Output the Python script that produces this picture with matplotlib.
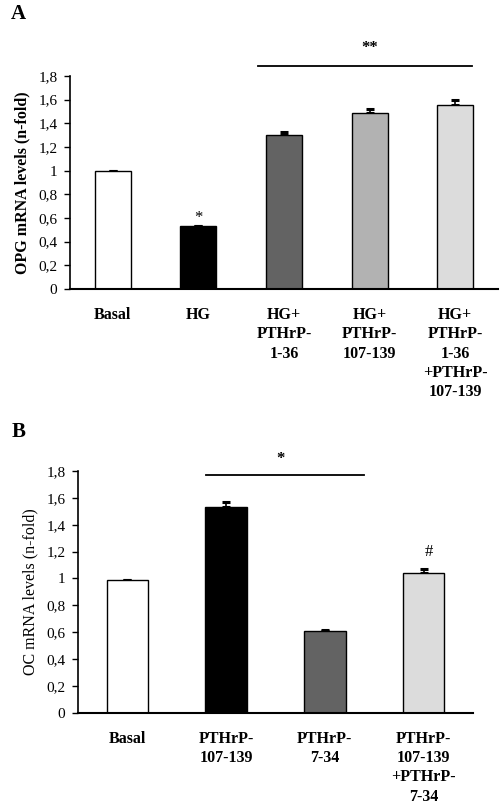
import matplotlib
matplotlib.use("Agg")
import matplotlib.pyplot as plt
import numpy as np

plt.rcParams['font.family'] = ['Liberation Serif', 'DejaVu Serif']

# Panel A data
cats_a = ["Basal", "HG", "HG+\nPTHrP-\n1-36", "HG+\nPTHrP-\n107-139", "HG+\nPTHrP-\n1-36\n+PTHrP-\n107-139"]
vals_a = [1.0, 0.53, 1.30, 1.49, 1.555]
errs_a = [0.0, 0.0, 0.025, 0.03, 0.04]
cols_a = ["#ffffff", "#000000", "#636363", "#b2b2b2", "#dcdcdc"]

# Panel B data
cats_b = ["Basal", "PTHrP-\n107-139", "PTHrP-\n7-34", "PTHrP-\n107-139\n+PTHrP-\n7-34"]
vals_b = [0.99, 1.53, 0.61, 1.04]
errs_b = [0.0, 0.04, 0.008, 0.03]
cols_b = ["#ffffff", "#000000", "#636363", "#dcdcdc"]

yticks = [0, 0.2, 0.4, 0.6, 0.8, 1.0, 1.2, 1.4, 1.6, 1.8]
ytick_labels = ["0", "0,2", "0,4", "0,6", "0,8", "1", "1,2", "1,4", "1,6", "1,8"]

W, H = 502, 807
fig = plt.figure(figsize=(W / 100, H / 100), dpi=100)


def style(ax, n, ylabel, ylabel_weight, ylsize):
    ax.set_xlim(-0.5, n - 0.5)
    ax.set_ylim(0, 1.8)
    ax.set_yticks(yticks)
    ax.set_yticklabels(ytick_labels, fontsize=11)
    ax.spines['top'].set_visible(False)
    ax.spines['right'].set_visible(False)
    ax.spines['left'].set_linewidth(1.2)
    ax.spines['bottom'].set_linewidth(1.5)
    ax.tick_params(axis='y', direction='out', length=4, width=1, pad=5)
    ax.tick_params(axis='x', length=0, pad=13)
    for lab in ax.get_xticklabels():
        lab.set_linespacing(1.28)
    ax.set_ylabel(ylabel, fontsize=ylsize, fontweight=ylabel_weight, labelpad=6)


# Panel A
axA = fig.add_axes([70 / W, 1 - 289 / H, 428 / W, 213 / H])
xa = np.arange(len(cats_a))
axA.bar(xa, vals_a, width=0.42, color=cols_a, edgecolor='black', linewidth=1.0, zorder=2)
axA.errorbar(xa, vals_a, yerr=[np.zeros(len(errs_a)), errs_a], fmt='none',
             ecolor='black', elinewidth=1.2, capsize=3, capthick=2.2, zorder=1)
axA.set_xticks(xa)
axA.set_xticklabels(cats_a, fontsize=11.5, fontweight='bold', va='top', ha='center')
style(axA, len(cats_a), "OPG mRNA levels (n-fold)", 'bold', 11.5)
axA.plot([1.7, 4.2], [1.885, 1.885], color='black', lw=1.3, clip_on=False)
axA.text(3.0, 2.04, "**", ha='center', va='center', fontsize=12, fontweight='bold')
axA.text(1, 0.60, "*", ha='center', va='center', fontsize=12)
fig.text(11 / W, 1 - 14 / H, "A", fontsize=15, fontweight='bold', ha='left', va='center')

# Panel B
axB = fig.add_axes([78 / W, 1 - 712.7 / H, 395 / W, 241.7 / H])
xb = np.arange(len(cats_b))
axB.bar(xb, vals_b, width=0.42, color=cols_b, edgecolor='black', linewidth=1.0, zorder=2)
axB.errorbar(xb, vals_b, yerr=[np.zeros(len(errs_b)), errs_b], fmt='none',
             ecolor='black', elinewidth=1.2, capsize=3, capthick=2.2, zorder=1)
axB.set_xticks(xb)
axB.set_xticklabels(cats_b, fontsize=11.5, fontweight='bold', va='top', ha='center')
style(axB, len(cats_b), "OC mRNA levels (n-fold)", 'normal', 11.5)
axB.plot([0.8, 2.4], [1.768, 1.768], color='black', lw=1.3, clip_on=False)
axB.text(1.55, 1.89, "*", ha='center', va='center', fontsize=12, fontweight='bold')
axB.text(3.05, 1.20, "#", ha='center', va='center', fontsize=12)
fig.text(12 / W, 1 - 432 / H, "B", fontsize=15, fontweight='bold', ha='left', va='center')

fig.savefig("out.png", dpi=100)
